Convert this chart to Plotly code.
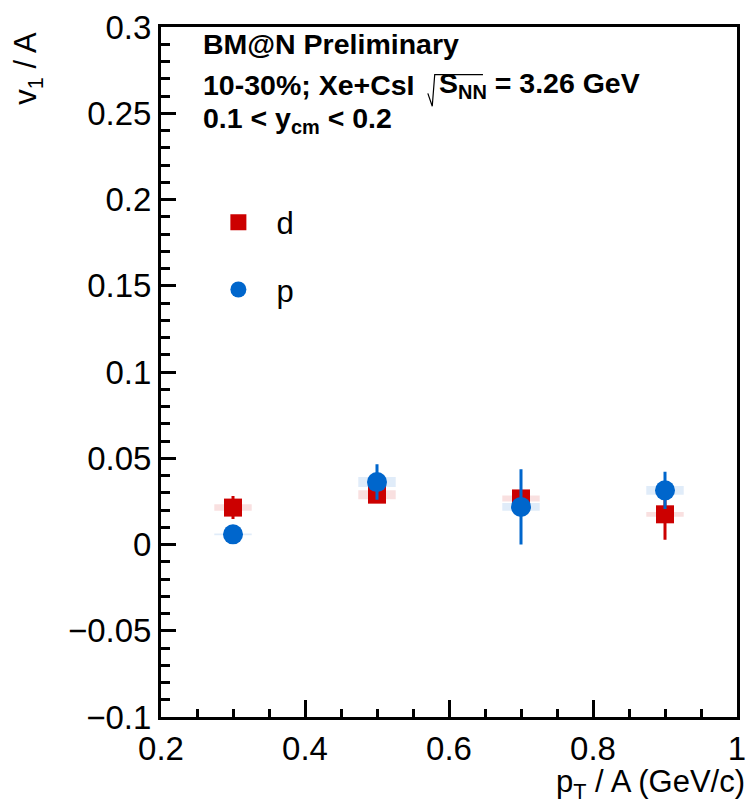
import plotly.graph_objects as go

# pT/A bin centres (GeV/c)
pt = [0.3, 0.5, 0.7, 0.9]

# deuterons: v1/A, statistical and systematic uncertainties
v1_d = [0.0214, 0.0289, 0.0267, 0.0175]
stat_d = [0.0058, 0.0040, 0.0040, 0.0139]
sys_d = [0.0019, 0.0026, 0.0017, 0.0014]

# protons: v1/A, statistical and systematic uncertainties
v1_p = [0.0059, 0.0362, 0.0218, 0.0314]
stat_p = [0.0020, 0.0094, 0.0210, 0.0099]
sys_p = [0.0005, 0.0029, 0.0023, 0.0025]

RED = "rgb(204,0,0)"
BLUE = "rgb(0,102,204)"
FONT = "Liberation Sans, Arial, Helvetica, sans-serif"

# plot frame in pixels
W, H = 755, 805
L, R, T, B = 161, 746, 21, 717
SYS_HALF_WIDTH = 0.026


def px_x(p):
    return (p - L) / (R - L)


def px_y(p):
    return (B - p) / (B - T)


fig = go.Figure()

# systematic uncertainty boxes
for v, s, col in [(v1_d, sys_d, "rgba(204,0,0,0.12)"), (v1_p, sys_p, "rgba(0,102,204,0.12)")]:
    fig.add_trace(go.Bar(
        x=pt, y=[2 * e for e in s], base=[a - e for a, e in zip(v, s)],
        width=2 * SYS_HALF_WIDTH, marker=dict(color=col, line=dict(width=0)),
        showlegend=False, hoverinfo="skip",
    ))

fig.add_trace(go.Scatter(
    x=pt, y=v1_d, mode="markers", name="d", legendgroup="d",
    marker=dict(symbol="square", size=18, color=RED),
    error_y=dict(type="data", array=stat_d, color=RED, thickness=3, width=1.5),
))
fig.add_trace(go.Scatter(
    x=pt, y=v1_p, mode="markers", name="p", legendgroup="p",
    marker=dict(symbol="circle", size=20, color=BLUE),
    error_y=dict(type="data", array=stat_p, color=BLUE, thickness=3, width=1.5),
))

axis_common = dict(
    showline=True, linecolor="black", linewidth=3, mirror=True,
    showgrid=False, zeroline=False, ticks="inside", tickcolor="black",
    tickwidth=2.5, tickfont=dict(family=FONT, size=33, color="black"),
)
fig.update_xaxes(
    range=[0.2, 1.0], tick0=0.2, dtick=0.2, ticklen=17,
    minor=dict(ticks="inside", dtick=0.05, ticklen=8, tickcolor="black", tickwidth=2.5),
    **axis_common,
)
fig.update_yaxes(
    range=[-0.1, 0.3], tick0=0, dtick=0.05, ticklen=15,
    minor=dict(ticks="inside", dtick=0.01, ticklen=9, tickcolor="black", tickwidth=2.5),
    **axis_common,
)

HEAD = 28.5
labels = [
    ("<b>BM@N Preliminary</b>", 202, 38),
    ("<b>10-30%; Xe+CsI</b>", 202, 79),
    ("<b>S<sub>NN</sub> = 3.26 GeV</b>", 441, 79),
    ("<b>0.1 &lt; y<sub>cm</sub> &lt; 0.2</b>", 202, 115),
]
ann = []
for text, x, y in labels:
    ann.append(dict(
        text=text, xref="paper", yref="paper", x=px_x(x), y=px_y(y),
        xanchor="left", yanchor="middle", showarrow=False,
        font=dict(family=FONT, size=HEAD, color="black"),
    ))
# axis titles
ann.append(dict(
    text="v<sub>1</sub> / A", xref="paper", yref="paper", x=px_x(26), y=px_y(63),
    xanchor="center", yanchor="middle", textangle=-90, showarrow=False,
    font=dict(family=FONT, size=31, color="black"),
))
ann.append(dict(
    text="p<sub>T</sub> / A (GeV/c)", xref="paper", yref="paper", x=px_x(756), y=px_y(785),
    xanchor="right", yanchor="middle", showarrow=False,
    font=dict(family=FONT, size=31, color="black"),
))

# square-root sign drawn as a thin stroke in front of S_NN
sqrt_pts = [(432, 88), (436.5, 101), (439, 69), (488, 69)]
sqrt_path = "M " + " L ".join(f"{px_x(x):.5f},{px_y(y):.5f}" for x, y in sqrt_pts)

fig.update_layout(
    width=W, height=H, margin=dict(l=L, r=W - R, t=T, b=H - B, pad=0),
    paper_bgcolor="white", plot_bgcolor="white", barmode="overlay",
    annotations=ann,
    shapes=[dict(type="path", xref="paper", yref="paper", path=sqrt_path,
                 line=dict(color="black", width=1.2))],
    legend=dict(
        x=px_x(201), y=px_y(191), xanchor="left", yanchor="top",
        font=dict(family=FONT, size=31, color="black"),
        bgcolor="rgba(0,0,0,0)", tracegroupgap=24, itemsizing="trace",
        itemwidth=66,
    ),
    showlegend=True,
)

fig.write_html("out.html")
